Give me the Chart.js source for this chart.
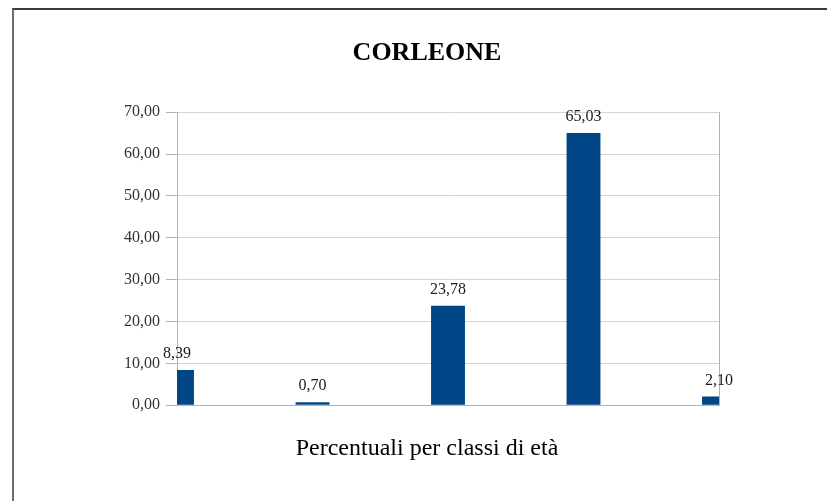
<!DOCTYPE html>
<html>
<head>
<meta charset="utf-8">
<script src="https://cdn.jsdelivr.net/npm/chart.js@4.4.0/dist/chart.umd.min.js"></script>
<style>
    html, body { margin: 0; padding: 0; background: #fff; overflow: hidden; }
    body { width: 827px; height: 501px; position: relative; }
    .frame {
        position: absolute;
        left: 12px;
        top: 8px;
        width: 826px;
        height: 491px;
        border-top: 2px solid #3a3a3a;
        border-left: 2px solid #6e6e6e;
    }
</style>
</head>
<body>
<div class="frame">
    <canvas id="chart" width="826" height="491"></canvas>
</div>
<script>
const chartTitle = 'CORLEONE';
const axisTitle = 'Percentuali per classi di età';
const classes = ['', '', '', '', ''];
const percentages = [8.39, 0.70, 23.78, 65.03, 2.10];
const yMax = 70;
const yStep = 10;

const serif = "'Liberation Serif', 'DejaVu Serif', serif";

function fmt(v) {
    return v.toFixed(2).replace('.', ',');
}

// value labels above each bar, kept inside the top of the plot
const valueLabels = {
    id: 'valueLabels',
    afterDatasetsDraw(chart) {
        const ctx = chart.ctx;
        const area = chart.chartArea;
        const meta = chart.getDatasetMeta(0);
        ctx.save();
        ctx.font = '16px ' + serif;
        ctx.fillStyle = '#1a1a1a';
        ctx.textAlign = 'center';
        ctx.textBaseline = 'middle';
        meta.data.forEach((bar, i) => {
            const y = Math.max(bar.y - 16, area.top + 4);
            ctx.fillText(fmt(percentages[i]), bar.x, y);
        });
        ctx.restore();
    }
};

const lastIndex = classes.length - 1;

new Chart(document.getElementById('chart'), {
    type: 'bar',
    data: {
        labels: classes,
        datasets: [{
            data: percentages,
            backgroundColor: '#004586',
            borderWidth: 0,
            categoryPercentage: 0.25,
            barPercentage: 1
        }]
    },
    options: {
        responsive: false,
        animation: false,
        events: [],
        layout: {
            padding: 0
        },
        plugins: {
            legend: { display: false },
            tooltip: { enabled: false },
            title: {
                display: true,
                text: chartTitle,
                color: '#000',
                font: { family: serif, size: 26, weight: 'bold' },
                padding: { top: 28, bottom: 43 }
            },
            subtitle: {
                display: true,
                position: 'bottom',
                text: axisTitle,
                color: '#000',
                font: { family: serif, size: 24, weight: 'normal' },
                padding: { top: 29, bottom: 38 }
            }
        },
        scales: {
            x: {
                offset: false,
                ticks: { display: false },
                grid: {
                    offset: false,
                    drawTicks: false,
                    color: c => (c.index === 0 || c.index === lastIndex) ? '#b3b3b3' : 'rgba(0,0,0,0)'
                },
                border: { display: true, color: '#b3b3b3' }
            },
            y: {
                min: 0,
                max: yMax,
                ticks: {
                    stepSize: yStep,
                    color: '#333',
                    padding: 6,
                    font: { family: serif, size: 16 },
                    callback: v => fmt(v)
                },
                grid: {
                    color: '#d4d4d4',
                    tickColor: '#b3b3b3',
                    tickLength: 11
                },
                border: { display: true, color: '#b3b3b3' },
                afterFit: scale => { scale.width = 163; }
            },
            // empty right-hand gutter so the plot ends where the titles stay centred on the frame
            gutter: {
                position: 'right',
                min: 0,
                max: yMax,
                ticks: { display: false },
                grid: { display: false },
                border: { display: false },
                afterFit: scale => { scale.width = 121; }
            }
        }
    },
    plugins: [valueLabels]
});
</script>
</body>
</html>
